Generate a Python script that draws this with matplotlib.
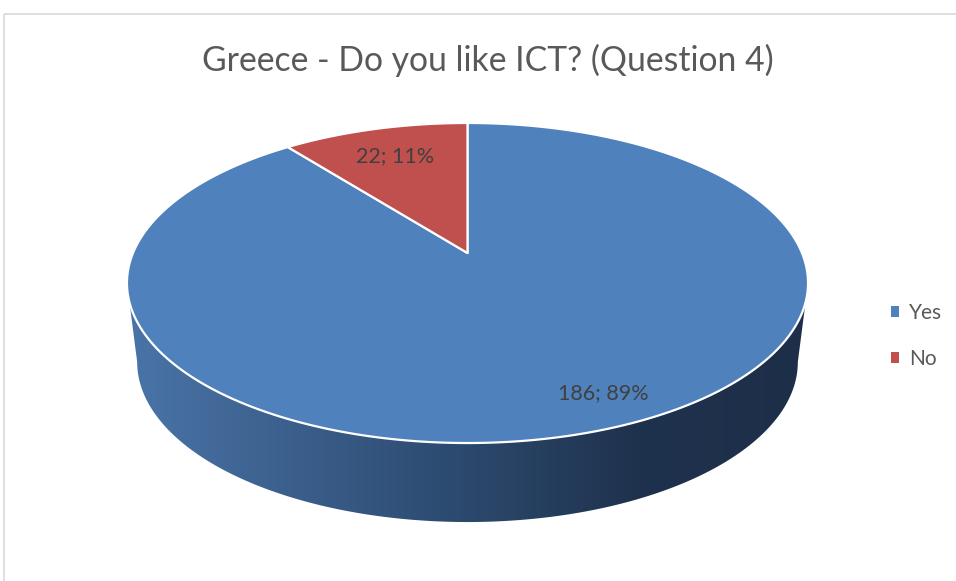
import numpy as np
import matplotlib.pyplot as plt
from matplotlib.patches import Polygon, Rectangle, Patch
from matplotlib.colors import LinearSegmentedColormap

# 数据
labels = ['Yes', 'No']
counts = [186, 22]
percents = ['89%', '11%']
colors = ['#4F81BD', '#C0504D']
title = 'Greece - Do you like ICT? (Question 4)'

plt.rcParams['font.family'] = ['Lato', 'DejaVu Sans']

fig = plt.figure(figsize=(9.56, 5.81), dpi=100)
ax = fig.add_axes([0, 0, 1, 1])

# 3D 饼图的投影参数（像素坐标）
cx, cy = 467.5, 253
A, B, k = 334.5, 154.4, 0.1875
depth = 79
shrink = 0.97


def proj(t, r=1.0, bottom=False):
    u = r * np.cos(t)
    v = r * np.sin(t)
    den = 1 + k * v
    a = A * shrink if bottom else A
    x = cx + a * u / den
    y = cy - B * v / den + (depth if bottom else 0)
    return x, y


# 侧面
t1 = np.pi + np.arcsin(k)
t2 = 2 * np.pi - np.arcsin(k)
ts = np.linspace(t1, t2, 300)
xt, yt = proj(ts)
xb, yb = proj(ts[::-1], bottom=True)
side = Polygon(np.column_stack([np.r_[xt, xb], np.r_[yt, yb]]), closed=True,
               fc='none', ec='none')
ax.add_patch(side)
cmap = LinearSegmentedColormap.from_list(
    'side', [(0, '#4a74a8'), (0.45, '#2e4d73'), (0.75, '#1f324d'), (1, '#1d2e48')])
grad = np.linspace(0, 1, 256).reshape(1, -1)
im = ax.imshow(grad, extent=[xt.min(), xt.max(), yb.max() + 2, yt.min() - 2],
               aspect='auto', cmap=cmap, interpolation='bilinear')
im.set_clip_path(side)

# 顶面扇形（从12点方向顺时针）
total = sum(counts)
start = np.pi / 2
mids = []
for c, col in zip(counts, colors):
    span = 2 * np.pi * c / total
    ang = np.linspace(start, start - span, 300)
    x, y = proj(ang)
    pts = np.column_stack([np.r_[cx, x], np.r_[cy, y]])
    ax.add_patch(Polygon(pts, closed=True, fc=col, ec='white', lw=1.6, joinstyle='round'))
    mids.append(start - span / 2)
    start -= span

# 数据标签
label_r = [0.85, 0.75]
label_shift = [np.radians(5), 0]
for c, p, m, r, s in zip(counts, percents, mids, label_r, label_shift):
    lx, ly = proj(m + s, r=r)
    ax.text(lx, ly, f'{c}; {p}', ha='center', va='center', fontsize=15.5, color='#404040')

ax.text(488, 60, title, ha='center', va='center', fontsize=24.3, color='#595959')

# 外框
ax.add_patch(Rectangle((4.5, 13.5), 2000, 2000, fill=False, ec='#d9d9d9', lw=1.2))

handles = [Patch(fc=col, ec='none') for col in colors]
ax.legend(handles, labels, loc='center left', bbox_to_anchor=(891 / 956, 1 - 336 / 581),
          frameon=False, fontsize=15, handlelength=0.4, handleheight=0.4,
          handletextpad=0.45, labelspacing=1.25, labelcolor='#595959',
          borderpad=0, borderaxespad=0)

ax.set_xlim(0, 956)
ax.set_ylim(581, 0)
ax.axis('off')

fig.savefig('out.png', dpi=100)
